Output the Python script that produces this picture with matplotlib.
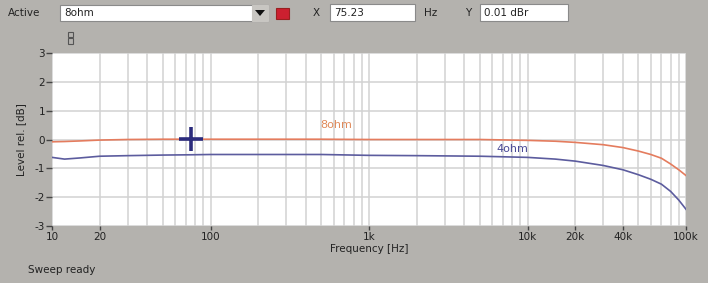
import matplotlib
matplotlib.use("Agg")
import matplotlib.pyplot as plt
from matplotlib.patches import Rectangle, Polygon
from matplotlib.ticker import FixedLocator, NullFormatter

# ---- data ----
freq = [10, 12, 15, 20, 30, 50, 75, 100, 200, 500, 1000, 2000, 5000,
        10000, 15000, 20000, 30000, 40000, 50000, 60000, 70000, 80000, 90000, 100000]
level_8ohm = [-0.08, -0.07, -0.05, -0.02, 0.0, 0.01, 0.01, 0.01, 0.01, 0.01, 0.0, 0.0, 0.0,
              -0.03, -0.06, -0.1, -0.18, -0.28, -0.4, -0.52, -0.65, -0.85, -1.05, -1.25]
level_4ohm = [-0.62, -0.68, -0.64, -0.58, -0.56, -0.54, -0.53, -0.52, -0.52, -0.52, -0.55, -0.56, -0.58,
              -0.62, -0.68, -0.75, -0.9, -1.05, -1.22, -1.38, -1.55, -1.8, -2.1, -2.42]
xtick_vals = [10, 20, 100, 1000, 10000, 20000, 40000, 100000]
xtick_labels = ["10", "20", "100", "1k", "10k", "20k", "40k", "100k"]
ytick_vals = [3, 2, 1, 0, -1, -2, -3]
cursor_x = 75.23
cursor_y = 0.01

W, H = 708, 283
BG = "#b4b2ae"
ORANGE = "#e47c5e"
BLUE = "#5c5c9e"
FONT = "DejaVu Sans"
FS = 7

fig = plt.figure(figsize=(W / 100, H / 100), dpi=100, facecolor=BG)

def fx(px):
    return px / W

def fy(py):
    return 1 - py / H

left, right, top, bottom = 52, 686, 53, 226
ax = fig.add_axes([fx(left), fy(bottom), fx(right - left), (bottom - top) / H])
ax.set_facecolor("white")
ax.set_xscale("log")
ax.set_xlim(10, 100000)
ax.set_ylim(-3, 3)

minor = [m * 10 ** d for d in range(1, 5) for m in range(1, 10)] + [100000]
ax.xaxis.set_minor_locator(FixedLocator(minor))
ax.xaxis.set_minor_formatter(NullFormatter())
ax.set_xticks(xtick_vals)
ax.set_xticklabels(xtick_labels, fontsize=FS + 0.5, family=FONT, color="#222222")
ax.set_yticks(ytick_vals)
ax.set_yticklabels([str(v) for v in ytick_vals], fontsize=FS + 0.5, family=FONT, color="#222222")
ax.grid(True, which="both", axis="x", color="#d2d2d2", lw=1.1)
ax.grid(True, which="major", axis="y", color="#d2d2d2", lw=1.1)
ax.tick_params(axis="x", which="minor", length=0)
ax.tick_params(axis="x", which="major", length=3, width=1, color="#444444", pad=1)
ax.tick_params(axis="y", length=4, width=1, color="#444444", pad=1)
for s in ax.spines.values():
    s.set_visible(False)
ax.set_axisbelow(True)

ax.plot(freq, level_8ohm, color=ORANGE, lw=1.2)
ax.plot(freq, level_4ohm, color=BLUE, lw=1.2)
ax.plot([cursor_x], [cursor_y], marker="+", ms=17, mew=2.6, color="#2b2b7c")

ax.text(490, 0.5, "8ohm", color="#e08a5a", fontsize=FS + 1, family=FONT, va="center")
ax.text(6400, -0.33, "4ohm", color="#4a4a96", fontsize=FS + 1, family=FONT, va="center")

ax.set_xlabel("Frequency [Hz]", fontsize=FS + 0.5, family=FONT, labelpad=2, color="#222222")
ax.set_ylabel("Level rel. [dB]", fontsize=FS + 0.5, family=FONT, labelpad=6, color="#222222")

# ---- toolbar ----
def box(x0, y0, x1, y1, fc="white", ec="#8a8a8a"):
    fig.patches.append(Rectangle((fx(x0), fy(y1)), fx(x1 - x0), (y1 - y0) / H,
                                 transform=fig.transFigure, facecolor=fc, edgecolor=ec, lw=0.8))

def txt(x, y, s, **kw):
    fig.text(fx(x), fy(y), s, fontsize=FS + 0.5, family=FONT, va="center", color="#222222", **kw)

txt(8, 13, "Active")
box(60, 5, 268, 21)
box(252, 5, 268, 21, fc="#c8c6c2", ec="#c8c6c2")
fig.patches.append(Polygon([(fx(255), fy(10)), (fx(265), fy(10)), (fx(260), fy(16))],
                           closed=True, transform=fig.transFigure, facecolor="#111111", edgecolor="none"))
txt(64, 13, "8ohm")
box(276, 8, 289, 19, fc="#cc2030", ec="#992020")
txt(313, 13, "X")
box(330, 4, 415, 21)
txt(334, 13, "75.23")
txt(424, 13, "Hz")
txt(465, 13, "Y")
box(480, 4, 568, 21)
txt(484, 13, "0.01 dBr")
box(68, 32, 73, 37, fc=BG, ec="#555555")
box(68, 38, 73, 44, fc=BG, ec="#555555")
txt(28, 270, "Sweep ready")

fig.savefig("out.png", dpi=100, facecolor=BG)
